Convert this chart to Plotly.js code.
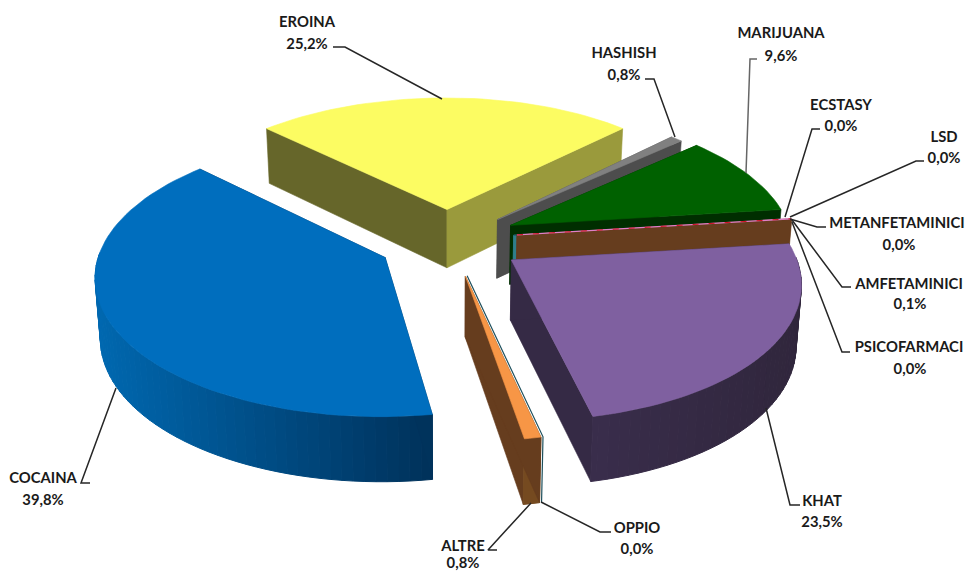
<!DOCTYPE html>
<html><head><meta charset="utf-8">
<script src="https://cdn.plot.ly/plotly-3.0.1.min.js"></script>
<style>html,body{margin:0;padding:0;background:#fff;overflow:hidden}#c{width:966px;height:571px}</style>
</head><body><div id="c"></div>
<script>
// ---- data (share of total, %), clockwise from the first slice
const categories = ['EROINA','HASHISH','MARIJUANA','ECSTASY','LSD','METANFETAMINICI','AMFETAMINICI','PSICOFARMACI','KHAT','OPPIO','ALTRE','COCAINA'];
const shares     = [25.2,0.8,9.6,0.0,0.0,0.0,0.1,0.0,23.5,0.0,0.8,39.8];

// ---- styles
const topColors  = ['#FCFC62','#808080','#006100','#d01020','#d01020','#e080c8','#663D1E','#1d5a66','#7F60A0','#1d4f5c','#F79646','#006EBE'];
const wallColors = [['#66662A','#9A9A3C'],['#4D4D4D','#4D4D4D'],['#002E00','#002E00'],['#5a0810','#5a0810'],['#5a0810','#5a0810'],['#804070','#804070'],['#663D1E','#663D1E'],['#2f7f8c','#2f7f8c'],['#352A45','#352A45'],['#1d4f5c','#1d4f5c'],['#663D1E','#663D1E'],['#00335c','#00335c']];
const rimColors  = {8:['#392D4B','#30263C'],10:['#754A20','#754A20'],11:['#0068B0','#00315A'],1:['#4D4D4D','#4D4D4D']};
const explode    = [.25,.25,.25,.25,.25,.25,.25,.238,.25,.25,.25,.25];
const nudge      = [0,0,0,0,0,0,0,0,5,4,4,3];
const nudgeY     = [0,0,-3,-3,-3,-3,-3,-3,-2,0,0,0];
const skew       = [0,0,0,0,0,0,0,0,5,4,4,5];
const radiusX    = [.98,.985,.995,1,1,1,1,1,.99,1,1,.975];
const drawOrder  = [0,1,2,7,6,8,10,11];
const labelX     = [307,624,781,841,944,897,909,909,822,637,463,43];
const labelY     = [23,54,34,106,138,224,285,348,502,529,547,479];
const valueX     = [307,624,781,841,944,899,910,910,822,637,463,43];
const valueY     = [45,76,57,127,159,246,305,370,523,550,564,501];
const leaders    = [
 [[333,47],[345,47],[442,99]],[[645,79],[654,79],[675,137]],[[757,59],[750,59],[746,173]],
 [[820,129],[812,129],[785,217]],[[924,161],[916,161],[790,217]],[[826,227],[817,227],[790,219]],
 [[851,287],[842,287],[792,220]],[[850,352],[842,352],[792,222]],[[800,505],[790,505],[766,408]],
 [[611,532],[600,532],[541,502]],[[497,550],[488,550],[531,503]],[[90,483],[81,483],[116,388]]];

// ---- camera
const cx=447, cy=242, T=134, p=.13, startDeg=-45.5;
const total = shares.reduce((a,b)=>a+b,0);
const rad = d=>d*Math.PI/180;
function proj(i,X,Y,bottom){
  const f=1/(1-Y*p), k=X>0?283:290;
  let sx=cx+X*k*f+nudge[i]+skew[i]*Y, sy=cy+Y*T*f+nudgeY[i];
  if(bottom){ sx=cx+(sx-cx)*.985; sy+=59.5+5*Y; }
  return [sx,sy];
}
let a=startDeg; const a1=[],a2=[];
shares.forEach((v,i)=>{a1[i]=a; a+=v/total*360; a2[i]=a;});
function geom(i){
  const mid=(a1[i]+a2[i])/2, e=explode[i];
  return {ox:e*Math.sin(rad(mid)), oy:-e*Math.cos(rad(mid))};
}
function rimPt(i,deg,bottom){const g=geom(i);return proj(i,g.ox+radiusX[i]*Math.sin(rad(deg)),g.oy-Math.cos(rad(deg)),bottom);}
function apex(i,bottom){const g=geom(i);return proj(i,g.ox,g.oy,bottom);}

const traces=[];
function poly(pts,color,closed=true,w=.6,dash){
  const xs=pts.map(q=>q[0]), ys=pts.map(q=>q[1]);
  if(closed){xs.push(xs[0]);ys.push(ys[0]);}
  traces.push({type:'scatter',mode:'lines',x:xs,y:ys,fill:closed?'toself':'none',fillcolor:color,
    line:{color:color,width:w,dash:dash||'solid'},hoverinfo:'skip',showlegend:false,cliponaxis:false});
}
const hex=c=>[1,3,5].map(j=>parseInt(c.substr(j,2),16));
function mix(A,B,t){const a=hex(A),b=hex(B);return 'rgb('+a.map((v,j)=>Math.round(v+(b[j]-v)*t)).join(',')+')';}

function solid(i){
  // back-side cut faces, then rim, then front cut faces, then top
  const wall=(deg,col)=>poly([apex(i),rimPt(i,deg),rimPt(i,deg,true),apex(i,true)],col);
  const firstFaces = Math.cos(rad(a1[i]-90))>0;
  const lastFaces  = Math.cos(rad(a2[i]+90))>0;
  if(!firstFaces) wall(a1[i],wallColors[i][0]);
  if(!lastFaces)  wall(a2[i],wallColors[i][1]);
  const rc=rimColors[i];
  if(rc){
    const lo=Math.max(a1[i],89), hi=Math.min(a2[i],272);
    if(hi>lo){
      const step=(hi-lo)>20?2:(hi-lo);
      const xsAll=[];for(let d=lo;d<=hi+1e-6;d+=step)xsAll.push(rimPt(i,d)[0]);
      const xmin=Math.min(...xsAll),xmax=Math.max(...xsAll);
      for(let d=lo;d<hi-1e-6;d+=step){
        const e=Math.min(d+step,hi);
        const t=xmax>xmin?((rimPt(i,(d+e)/2)[0]-xmin)/(xmax-xmin)):0;
        poly([rimPt(i,d),rimPt(i,e),rimPt(i,e,true),rimPt(i,d,true)],mix(rc[0],rc[1],t),true,1);
      }
    }
  }
  if(firstFaces) wall(a1[i],wallColors[i][0]);
  if(lastFaces)  wall(a2[i],wallColors[i][1]);
  const pts=[apex(i)];
  for(let d=a1[i];d<a2[i];d+=2)pts.push(rimPt(i,d));
  pts.push(rimPt(i,a2[i]));
  poly(pts,topColors[i]);
}

drawOrder.forEach(i=>{
  solid(i);
  if(i===6){
    poly([apex(5),rimPt(5,a1[5])],topColors[5],false,1.4);
    poly([apex(3),rimPt(3,a1[3])],topColors[3],false,1,'6px,10px');
  }
  if(i===10){
    poly([apex(9),rimPt(9,a1[9]),rimPt(9,a1[9],true)],topColors[9],false,1.2);
  }
});

leaders.forEach((l,i)=>{
  poly(l,i===2?'#666666':'#262626',false,1.5);
});

const fmt=v=>v.toFixed(1).replace('.',',')+'%';
traces.push({type:'scatter',mode:'text',x:labelX,y:labelY,text:categories,textposition:'middle center',
  textfont:{family:'Lato, "Open Sans", sans-serif',size:14.8,color:'#1a1a1a',weight:700},hoverinfo:'skip',showlegend:false,cliponaxis:false});
traces.push({type:'scatter',mode:'text',x:valueX,y:valueY,text:shares.map(fmt),textposition:'middle center',
  textfont:{family:'Lato, "Open Sans", sans-serif',size:14.8,color:'#1a1a1a',weight:700},hoverinfo:'skip',showlegend:false,cliponaxis:false});

Plotly.newPlot('c',traces,{
  width:966,height:571,margin:{l:0,r:0,t:0,b:0},paper_bgcolor:'#fff',plot_bgcolor:'#fff',showlegend:false,
  xaxis:{range:[0,966],visible:false,fixedrange:true},
  yaxis:{range:[571,0],visible:false,fixedrange:true}
},{displayModeBar:false,staticPlot:true});
</script></body></html>
